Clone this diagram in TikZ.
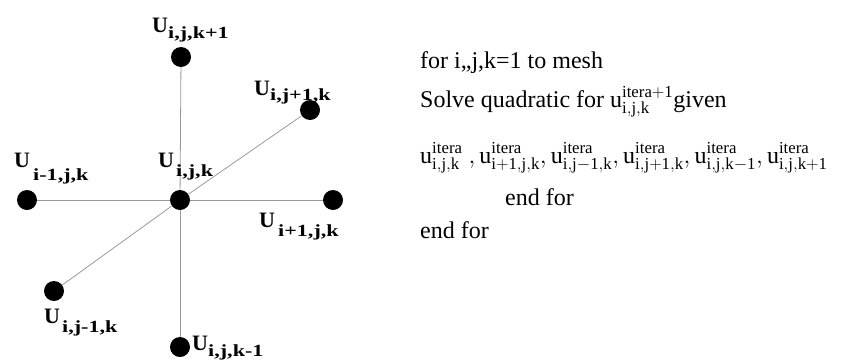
\documentclass[tikz,border=0pt]{standalone}
\usepackage{fontspec}
\setmainfont{Liberation Serif}
\usepackage{graphicx}
\newcommand{\subt}[1]{\scalebox{1.3}[1]{#1}}
\begin{document}
\begin{tikzpicture}[x=1pt,y=-1pt,
  dot/.style={circle,fill=black,inner sep=0pt,minimum size=20pt},
  edge/.style={draw=black!40,line width=0.8pt},
  lab/.style={inner sep=0pt,anchor=base west,font=\fontsize{22}{24}\selectfont\bfseries},
  sub/.style={inner sep=0pt,anchor=base west,font=\fontsize{17}{19}\selectfont\bfseries},
  txt/.style={inner sep=0pt,anchor=base west,font=\fontsize{24}{26}\selectfont}]
\useasboundingbox (0,0) rectangle (858,362);
\node[dot] (c) at (180,200) {};
\node[dot] (t) at (181,57) {};
\node[dot] (b) at (180,347) {};
\node[dot] (l) at (27,200) {};
\node[dot] (r) at (333,200) {};
\node[dot] (ur) at (310,110) {};
\node[dot] (ll) at (54,291) {};
\draw[edge] (t) -- (c);
\draw[edge] (c) -- (b);
\draw[edge] (l) -- (c);
\draw[edge] (c) -- (r);
\draw[edge] (ll) -- (c);
\draw[edge] (c) -- (ur);
% labels
\node[lab] (Ut) at (152,32) {U};
\node[sub] (St) at (168,38) {\subt{i,j,k+1}};
\node[lab] (Uur) at (254,95) {U};
\node[sub] (Sur) at (270,100) {\subt{i,j+1,k}};
\node[lab] (Uc) at (158,167) {U};
\node[sub] (Sc) at (176,176) {\subt{i,j,k}};
\node[lab] (Ul) at (14,167) {U};
\node[sub] (Sl) at (33,180) {\subt{i-1,j,k}};
\node[lab] (Ur) at (259,227) {U};
\node[sub] (Sr) at (278,236) {\subt{i+1,j,k}};
\node[lab] (Ull) at (44,323) {U};
\node[sub] (Sll) at (62,332) {\subt{i,j-1,k}};
\node[lab] (Ub) at (192,350) {U};
\node[sub] (Sb) at (208,356) {\subt{i,j,k-1}};
% algorithm text
\node[txt] (a1) at (420,68) {for i,,j,k=1 to mesh};
\node[txt] (a2) at (420,107) {Solve quadratic for $\mathrm{u}^{\mathrm{itera+1}}_{\mathrm{i,j,k}}$given};
\node[txt] (a3) at (420,163) {$\mathrm{u}^{\mathrm{itera}}_{\mathrm{i,j,k}}\ ,\mathrm{u}^{\mathrm{itera}}_{\mathrm{i+1,j,k}},\mathrm{u}^{\mathrm{itera}}_{\mathrm{i,j-1,k}},\mathrm{u}^{\mathrm{itera}}_{\mathrm{i,j+1,k}},\mathrm{u}^{\mathrm{itera}}_{\mathrm{i,j,k-1}},\mathrm{u}^{\mathrm{itera}}_{\mathrm{i,j,k+1}}$};
\node[txt] (a4) at (505,205) {end for};
\node[txt] (a5) at (420,238) {end for};
\end{tikzpicture}
\end{document}
